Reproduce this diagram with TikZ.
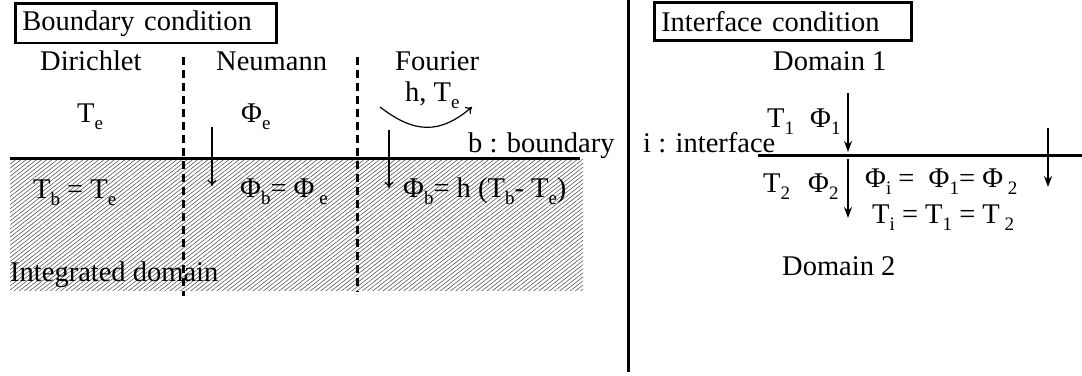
\documentclass[tikz,border=0pt]{standalone}
\usepackage{fontspec}
\setmainfont{Liberation Serif}
\usetikzlibrary{arrows.meta, patterns.meta}
\newcommand{\lowidx}[1]{\raisebox{-7pt}{\fontsize{19}{20}\selectfont #1}}

\begin{document}
\begin{tikzpicture}[x=1pt, y=-1pt,
  font=\fontsize{28.5}{32}\selectfont,
  condbox/.style={draw, line width=2.5pt, inner sep=7pt, minimum height=38pt, align=left, anchor=north west},
  lbl/.style={inner sep=0pt, anchor=base west},
  divider/.style={line width=3pt},
  sepline/.style={line width=3pt, dash pattern=on 8pt off 5pt},
  thinarr/.style={-{To[length=6pt, width=9pt]}, line width=1.2pt},
  arr/.style={-{Stealth[length=11pt, width=8pt]}, line width=2.7pt},
  hatch/.style={pattern={Lines[angle=38, distance=3.2pt, line width=0.55pt]}, pattern color=black!70}
]
  \useasboundingbox (0,0) rectangle (1082,375);

  % integrated domain
  \path[hatch] (10,158) rectangle (583,290);

  \node[condbox, text width=247pt] (bctitle) at (14,2) {Boundary condition};
  \node[condbox, text width=243pt] (ictitle) at (653,1) {Interface condition};

  % left half: boundary conditions
  \coordinate (d1top) at (183,57);
  \coordinate (d1bot) at (183,296);
  \coordinate (d2top) at (357,57);
  \coordinate (d2bot) at (357,292);
  \draw[sepline] (d1top) -- (d1bot);
  \draw[sepline] (d2top) -- (d2bot);

  \coordinate (blL) at (10,158);
  \coordinate (blR) at (580,158);
  \draw[divider] (blL) -- (blR);

  \node[lbl] (dirichlet) at (40,70) {Dirichlet};
  \node[lbl] (neumann) at (216,70) {Neumann};
  \node[lbl] (fourier) at (395,70) {Fourier};
  \node[lbl] (te) at (77,122) {T\lowidx{e}};
  \node[lbl] (phie) at (241,122) {Φ\lowidx{e}};
  \node[lbl] (hte) at (405,101) {h, T\lowidx{e}};
  \node[lbl] (bnd) at (468,152) {b : boundary};
  \node[lbl] (dirbc) at (33,198) {T\lowidx{b} = T\lowidx{e}};
  \node[lbl] (neubc) at (240,197) {Φ\lowidx{b}= Φ\,\lowidx{e}};
  \node[lbl] (foubc) at (403,197) {Φ\lowidx{b}= h (T\lowidx{b}- T\lowidx{e})};
  \node[lbl] (intdom) at (10,281) {Integrated domain};

  \coordinate (na1) at (212,127);
  \coordinate (na2) at (212,186);
  \coordinate (fa1) at (389,130);
  \coordinate (fa2) at (389,188);
  \coordinate (fin) at (380,107);
  \coordinate (fout) at (472,107);
  \draw[thinarr] (na1) -- (na2);
  \draw[thinarr] (fa1) -- (fa2);
  \draw[thinarr] (fin) .. controls (415,134) and (440,134) .. (fout);

  % separator
  \coordinate (vtop) at (628,0);
  \coordinate (vbot) at (628,372);
  \draw[divider] (vtop) -- (vbot);

  % right half: interface condition
  \coordinate (ilL) at (758,155);
  \coordinate (ilR) at (1082,155);
  \draw[divider] (ilL) -- (ilR);

  \node[lbl] (dom1) at (773,70) {Domain 1};
  \node[lbl] (t1) at (767,127) {T\lowidx{1}};
  \node[lbl] (phi1) at (810,127) {Φ\lowidx{1}};
  \node[lbl] (iface) at (643,152) {i : interface};
  \node[lbl] (t2) at (763,192) {T\lowidx{2}};
  \node[lbl] (phi2) at (808,192) {Φ\lowidx{2}};
  \node[lbl] (phieq) at (865,187) {Φ\lowidx{i} =\ \ Φ\lowidx{1}= Φ\,\lowidx{2}};
  \node[lbl] (teq) at (872,223) {T\lowidx{i} = T\lowidx{1} = T\,\lowidx{2}};
  \node[lbl] (dom2) at (782,275) {Domain 2};

  \coordinate (ia1) at (848,93);
  \coordinate (ia2) at (848,152);
  \coordinate (ib1) at (848,159);
  \coordinate (ib2) at (848,218);
  \coordinate (ic1) at (1048,128);
  \coordinate (ic2) at (1048,187);
  \draw[arr] (ia1) -- (ia2);
  \draw[arr] (ib1) -- (ib2);
  \draw[arr] (ic1) -- (ic2);
\end{tikzpicture}
\end{document}
